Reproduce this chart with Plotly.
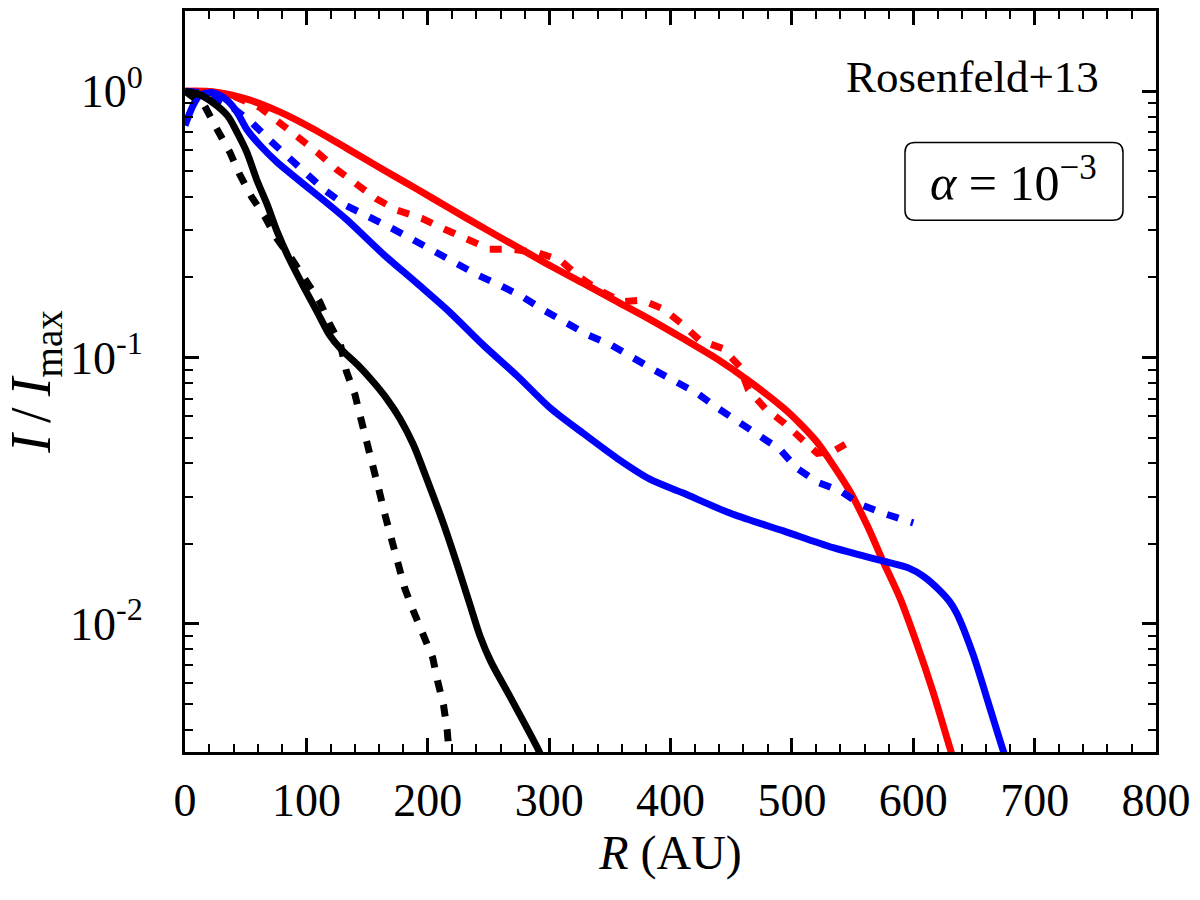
import plotly.graph_objects as go

# ---- data (R in AU, I/Imax) ----
red_solid_R = [0, 23, 51, 78, 105, 133, 163, 191, 218, 245, 273, 301, 328, 356, 383, 410,
               438, 465, 493, 507, 521, 534, 548, 562, 575, 589, 603, 616, 630, 636]
red_solid_I = [1.0, 0.995, 0.933, 0.836, 0.724, 0.611, 0.508, 0.429, 0.363, 0.308, 0.261,
               0.221, 0.190, 0.162, 0.139, 0.118, 0.0989, 0.0813, 0.0646, 0.0562, 0.0479,
               0.0394, 0.0313, 0.0234, 0.0172, 0.0125, 0.0084, 0.0056, 0.00344, 0.0028]

red_dash_R = [0, 37, 62, 78, 93, 109, 125, 142, 158, 175, 195, 214, 232, 251, 270, 291, 309,
              325, 342, 360, 377, 394, 410, 424, 443, 457, 464, 478, 494, 508, 521, 534, 544]
red_dash_I = [1.0, 0.97, 0.867, 0.762, 0.67, 0.589, 0.508, 0.447, 0.393, 0.357, 0.333, 0.303,
              0.278, 0.255, 0.255, 0.247, 0.232, 0.2, 0.178, 0.162, 0.164, 0.152, 0.133,
              0.116, 0.108, 0.0925, 0.0758, 0.0643, 0.0565, 0.0492, 0.0436, 0.0444, 0.0472]

blue_solid_R = [0, 6.6, 12, 23, 35, 43, 51, 62, 76, 92, 111, 133, 163, 191, 218, 246, 274, 301,
                328, 356, 383, 410, 451, 493, 534, 575, 596, 609, 622, 630, 636, 649, 663,
                674, 680]
blue_solid_I = [0.743, 0.883, 0.962, 0.987, 0.921, 0.832, 0.718, 0.625, 0.54, 0.47, 0.40,
                0.33, 0.245, 0.19, 0.148, 0.111, 0.085, 0.0645, 0.0519, 0.0418, 0.0349,
                0.031, 0.0258, 0.0223, 0.0193, 0.0172, 0.0162, 0.0150, 0.0133, 0.0121,
                0.0109, 0.00773, 0.00485, 0.00335, 0.0028]

blue_dash_R = [1.6, 12, 37, 55, 70, 85, 100, 115, 132, 150, 169, 187, 204, 222, 241, 259, 278,
               295, 313, 331, 350, 368, 386, 404, 422, 438, 456, 472, 490, 504, 521, 540, 556,
               575, 596, 600]
blue_dash_I = [1.0, 0.987, 0.883, 0.762, 0.653, 0.564, 0.487, 0.425, 0.373, 0.342, 0.308,
               0.278, 0.251, 0.226, 0.204, 0.187, 0.169, 0.151, 0.135, 0.122, 0.112, 0.1,
               0.09, 0.0812, 0.0733, 0.0649, 0.0575, 0.0519, 0.0452, 0.0384, 0.034, 0.0315,
               0.0281, 0.026, 0.0243, 0.0239]

black_solid_R = [0, 12, 23, 35, 43, 51, 59, 68, 76, 86, 97, 109, 119, 128, 142, 155, 166, 177,
                 188, 199, 213, 224, 235, 243, 252, 268, 290, 296]
black_solid_I = [1.0, 0.97, 0.906, 0.809, 0.699, 0.589, 0.466, 0.372, 0.296, 0.234, 0.187,
                 0.148, 0.1215, 0.108, 0.094, 0.081, 0.0702, 0.059, 0.0472, 0.0352, 0.0237,
                 0.0168, 0.0117, 0.0090, 0.0072, 0.0053, 0.00344, 0.0030]

black_dash_R = [0, 16, 27, 37, 45, 55, 66, 76, 88, 100, 111, 119, 128, 133, 140, 144, 150, 155,
                160, 165, 170, 175, 181, 188, 196, 204, 208, 213, 216, 217, 218]
black_dash_I = [1.0, 0.883, 0.711, 0.589, 0.487, 0.4, 0.336, 0.278, 0.234, 0.195, 0.162, 0.134,
                0.112, 0.0885, 0.0726, 0.0611, 0.0484, 0.039, 0.0315, 0.0254, 0.0208, 0.0168,
                0.0136, 0.0112, 0.00918, 0.00747, 0.00612, 0.00494, 0.00398, 0.0033, 0.0031]

x_ticks = [0, 100, 200, 300, 400, 500, 600, 700, 800]
y_tickvals = [1, 0.1, 0.01]
y_ticktext = ["10<sup>0</sup>", "10<sup>-1</sup>", "10<sup>-2</sup>"]
y_minor = [k * 10.0 ** n for n in (-3, -2, -1, 0) for k in range(2, 10)]

FONT = "Liberation Serif"
LW = 7
DASH = "12px,13px"

fig = go.Figure()
series = [
    (red_solid_R, red_solid_I, "#ff0000", "solid", "spline"),
    (red_dash_R, red_dash_I, "#ff0000", DASH, "linear"),
    (blue_solid_R, blue_solid_I, "#0000ff", "solid", "spline"),
    (blue_dash_R, blue_dash_I, "#0000ff", DASH, "linear"),
    (black_solid_R, black_solid_I, "#000000", "solid", "spline"),
    (black_dash_R, black_dash_I, "#000000", DASH, "linear"),
]
for xs, ys, col, dash, shape in series:
    fig.add_trace(go.Scatter(
        x=xs, y=ys, mode="lines",
        line=dict(color=col, width=LW, dash=dash, shape=shape, smoothing=0.8),
        showlegend=False, hoverinfo="skip"))

axis_common = dict(
    showline=True, linecolor="black", linewidth=3, mirror="ticks",
    ticks="inside", ticklen=14, tickwidth=2.5, tickcolor="black",
    showgrid=False, zeroline=False,
    tickfont=dict(family=FONT, size=46, color="black"),
)

fig.update_xaxes(
    range=[0, 800], tickvals=x_ticks, ticktext=[str(v) for v in x_ticks],
    minor=dict(ticks="inside", ticklen=8, tickwidth=2, tickcolor="black", dtick=20, showgrid=False),
    title=dict(text="<i>R</i> (AU)", font=dict(family=FONT, size=48, color="black"), standoff=8),
    ticklabelstandoff=6,
    **axis_common)

fig.update_yaxes(
    type="log", range=[-2.482, 0.301],
    tickmode="array", tickvals=y_tickvals, ticktext=y_ticktext,
    minor=dict(ticks="inside", ticklen=8, tickwidth=2, tickcolor="black",
               tickvals=y_minor, showgrid=False),
    title=dict(text="<i>I</i>\u2009/\u2009<i>I</i><sub>max</sub>",
               font=dict(family=FONT, size=56, color="black"), standoff=8),
    ticklabelstandoff=30,
    **axis_common)

# rounded box for alpha label (paper coords)
x0, x1, y0, y1 = 0.7415, 0.966, 0.7177, 0.8226
rx, ry = 10 / 971, 10 / 744
path = (f"M {x0+rx},{y0} L {x1-rx},{y0} Q {x1},{y0} {x1},{y0+ry} "
        f"L {x1},{y1-ry} Q {x1},{y1} {x1-rx},{y1} L {x0+rx},{y1} "
        f"Q {x0},{y1} {x0},{y1-ry} L {x0},{y0+ry} Q {x0},{y0} {x0+rx},{y0} Z")
fig.add_shape(type="path", path=path, xref="paper", yref="paper",
              line=dict(color="black", width=1.5), fillcolor="rgba(0,0,0,0)", layer="above")

fig.add_annotation(x=0.8115, y=0.911, xref="paper", yref="paper", showarrow=False,
                   xanchor="center", yanchor="middle",
                   text="Rosenfeld+13", font=dict(family=FONT, size=45, color="black"))
fig.add_annotation(x=0.853, y=0.772, xref="paper", yref="paper", showarrow=False,
                   xanchor="center", yanchor="middle",
                   text="<i>α</i> = 10<sup>−3</sup>", font=dict(family=FONT, size=50, color="black"))

fig.update_layout(
    width=1200, height=900,
    margin=dict(l=185, r=44, t=8, b=148),
    paper_bgcolor="white", plot_bgcolor="white",
    font=dict(family=FONT, color="black"),
)

fig.write_html("out.html")
